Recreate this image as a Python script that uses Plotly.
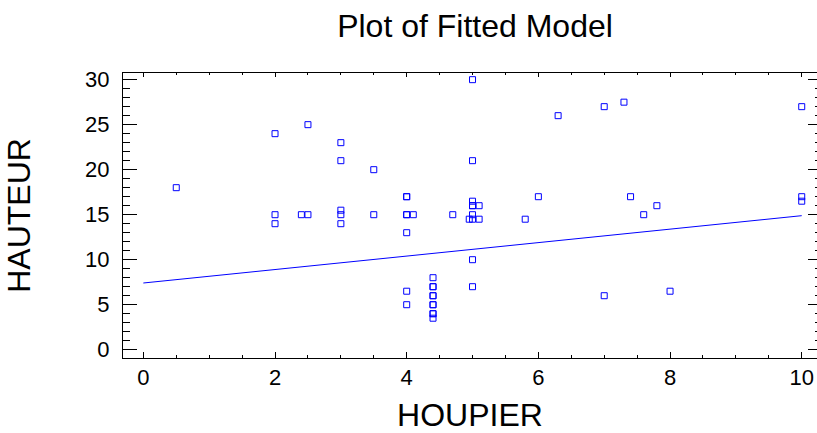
import plotly.graph_objects as go

# Observed data (HOUPIER, HAUTEUR)
houpier = [0.5,
           2, 2, 2,
           2.4,
           2.5, 2.5,
           3, 3, 3, 3, 3,
           3.5, 3.5,
           4, 4, 4, 4, 4, 4, 4,
           4.1,
           4.4, 4.4, 4.4, 4.4, 4.4, 4.4, 4.4, 4.4, 4.4, 4.4,
           4.7,
           4.95,
           5, 5, 5, 5, 5, 5, 5, 5, 5,
           5.1, 5.1,
           5.8,
           6,
           6.3,
           7, 7,
           7.3,
           7.4,
           7.6,
           7.8,
           8,
           10, 10, 10]
hauteur = [18,
           24, 15, 14,
           15,
           25, 15,
           23, 21, 15.5, 15, 14,
           20, 15,
           17, 17, 15, 15, 13, 6.5, 5,
           15,
           8, 7, 7, 6, 6, 5, 5, 4, 4, 3.5,
           15,
           14.5,
           30, 21, 16.5, 16, 16, 15, 14.5, 10, 7,
           16, 14.5,
           14.5,
           17,
           26,
           27, 6,
           27.5,
           17,
           15,
           16,
           6.5,
           27, 17, 16.5]

# Fitted model line
fit_x = [0, 10]
fit_y = [7.41, 14.89]

x_ticks = [0, 2, 4, 6, 8, 10]
y_ticks = [0, 5, 10, 15, 20, 25, 30]

BLUE = "rgb(0,0,255)"
FONT = "Arial, Liberation Sans, sans-serif"

fig = go.Figure()
fig.add_trace(go.Scatter(x=fit_x, y=fit_y, mode="lines",
                         line=dict(color=BLUE, width=1), showlegend=False,
                         hoverinfo="skip"))
fig.add_trace(go.Scatter(x=houpier, y=hauteur, mode="markers",
                         marker=dict(symbol="square-open", size=6,
                                     color=BLUE, line=dict(width=1, color=BLUE)),
                         showlegend=False))
# dummy trace to activate mirrored axes
fig.add_trace(go.Scatter(x=[], y=[], xaxis="x2", yaxis="y2", showlegend=False))

xr = [-0.309, 10.232]
yr = [-0.92, 30.74]

fig.update_layout(
    width=817, height=433,
    margin=dict(l=123, r=0, t=73, b=75),
    paper_bgcolor="white", plot_bgcolor="white",
    font=dict(family=FONT, color="black"),
    title=dict(text="Plot of Fitted Model", font=dict(size=32, color="black"),
               x=475 / 817, xref="container", xanchor="center",
               y=1 - 26 / 433, yref="container", yanchor="middle"),
    xaxis=dict(range=xr, showline=True, linecolor="black", linewidth=1,
               ticks="inside", ticklen=6, tickwidth=1, tickcolor="black",
               tickvals=x_ticks, ticktext=[str(v) for v in x_ticks],
               minor=dict(dtick=0.5, tick0=0, ticks="inside", ticklen=3,
                          tickcolor="black", tickwidth=1),
               showgrid=False, zeroline=False,
               tickfont=dict(size=22),
               title=dict(text="HOUPIER", font=dict(size=32), standoff=20)),
    yaxis=dict(range=yr, showline=True, linecolor="black", linewidth=1,
               ticks="inside", ticklen=14, tickwidth=1, tickcolor="black",
               tickvals=y_ticks, ticktext=[str(v) for v in y_ticks],
               minor=dict(dtick=1, tick0=0, ticks="inside", ticklen=7,
                          tickcolor="black", tickwidth=1),
               showgrid=False, zeroline=False,
               tickfont=dict(size=22), ticklabelstandoff=8,
               title=dict(text="HAUTEUR", font=dict(size=32), standoff=44)),
    xaxis2=dict(range=xr, overlaying="x", side="top", anchor="y2",
                showline=True, linecolor="black", linewidth=1,
                ticks="inside", ticklen=4, tickwidth=1, tickcolor="black",
                tickvals=x_ticks, showticklabels=False,
                minor=dict(dtick=0.5, tick0=0, ticks="inside", ticklen=2,
                           tickcolor="black", tickwidth=1),
                showgrid=False, zeroline=False),
    yaxis2=dict(range=yr, overlaying="y", side="right", anchor="x2",
                showline=False,
                ticks="inside", ticklen=9, tickwidth=1, tickcolor="black",
                tickvals=y_ticks, showticklabels=False,
                minor=dict(dtick=1, tick0=0, ticks="inside", ticklen=2,
                           tickcolor="black", tickwidth=1),
                showgrid=False, zeroline=False),
)

fig.write_html("out.html")
